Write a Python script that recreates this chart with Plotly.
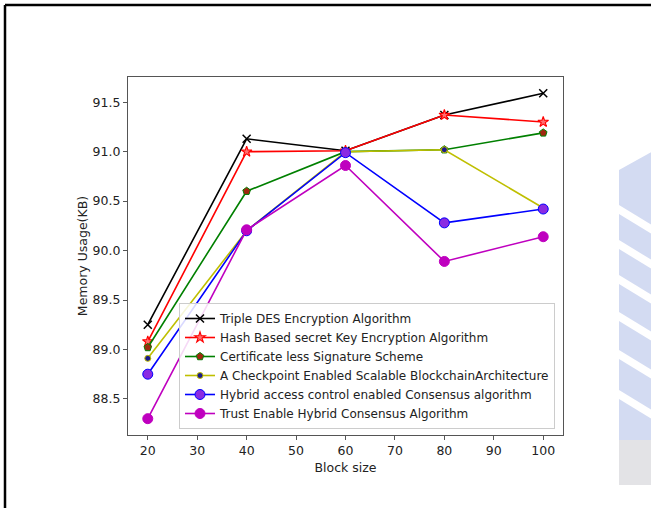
import plotly.graph_objects as go

# Block sizes and memory usage (KB) for each scheme
block_size = [20, 40, 60, 80, 100]

triple_des = [89.25, 91.13, 91.01, 91.37, 91.59]
hash_based = [89.08, 91.00, 91.01, 91.37, 91.30]
certificate_less = [89.02, 90.60, 91.00, 91.02, 91.19]
checkpoint = [88.91, 90.20, 91.00, 91.02, 90.43]
hybrid_access = [88.75, 90.20, 90.99, 90.28, 90.42]
trust_enable = [88.30, 90.21, 90.86, 89.89, 90.14]

series_names = [
    "Triple DES Encryption Algorithm",
    "Hash Based secret Key Encryption Algorithm",
    "Certificate less Signature Scheme",
    "A Checkpoint Enabled Scalable BlockchainArchitecture",
    "Hybrid access control enabled Consensus algorithm",
    "Trust Enable Hybrid Consensus Algorithm",
]

W, H = 651, 508
L, R, T, B = 128, 563, 77, 435  # plot area in pixels


def px(x):
    return (x - L) / (R - L)


def py(y):
    return (B - y) / (B - T)


styles = [
    dict(line="#000000", symbol="x-thin", size=8, fill="#000000", edge="#000000", ew=1.5),
    dict(line="#ff0000", symbol="star", size=8, fill="#ff7070", edge="#ff0000", ew=1.1),
    dict(line="#008000", symbol="pentagon", size=8, fill="#a0280f", edge="#008000", ew=1.0),
    dict(line="#bfbf00", symbol="circle", size=6, fill="#1a1a8c", edge="#bfbf00", ew=1.0),
    dict(line="#0000ff", symbol="circle", size=10, fill="#8a2be2", edge="#0000ff", ew=1.0),
    dict(line="#bf00bf", symbol="circle", size=10, fill="#bf00bf", edge="#bf00bf", ew=1.0),
]

data = [triple_des, hash_based, certificate_less, checkpoint, hybrid_access, trust_enable]

fig = go.Figure()
for name, ys, st in zip(series_names, data, styles):
    fig.add_trace(go.Scatter(
        x=block_size, y=ys, name=name, mode="lines+markers",
        line=dict(color=st["line"], width=1.6),
        marker=dict(symbol=st["symbol"], size=st["size"], color=st["fill"],
                    line=dict(color=st["edge"], width=st["ew"])),
    ))

shapes = []
# page frame
shapes.append(dict(type="line", xref="paper", yref="paper",
                   x0=px(5), x1=px(5), y0=py(5), y1=py(W + 10),
                   line=dict(color="black", width=2.5), layer="above"))
shapes.append(dict(type="line", xref="paper", yref="paper",
                   x0=px(5), x1=px(W + 10), y0=py(5), y1=py(5),
                   line=dict(color="black", width=2.5), layer="above"))

# faint background emblem on the right edge
shapes.append(dict(type="path", xref="paper", yref="paper",
                   path=f"M {px(619)} {py(170)} L {px(655)} {py(150)} L {px(655)} {py(485)} L {px(619)} {py(485)} Z",
                   fillcolor="#d3dbf2", line=dict(width=0), layer="below"))
shapes.append(dict(type="rect", xref="paper", yref="paper",
                   x0=px(619), x1=px(655), y0=py(440), y1=py(485),
                   fillcolor="#e3e3e6", line=dict(width=0), layer="below"))
for y0 in [205, 240, 275, 312, 350, 390]:
    shapes.append(dict(type="path", xref="paper", yref="paper",
                       path=(f"M {px(619)} {py(y0)} L {px(655)} {py(y0 + 22)} "
                             f"L {px(655)} {py(y0 + 31)} L {px(619)} {py(y0 + 9)} Z"),
                       fillcolor="#ffffff", line=dict(width=0), layer="below"))

fig.update_layout(
    width=W, height=H,
    margin=dict(l=L, r=W - R, t=T, b=H - B),
    paper_bgcolor="white", plot_bgcolor="white",
    font=dict(family="DejaVu Sans", size=12, color="#222222"),
    showlegend=True,
    legend=dict(
        x=px(179), y=py(303), xanchor="left", yanchor="top",
        bgcolor="rgba(255,255,255,0.85)", bordercolor="#cccccc", borderwidth=1,
        font=dict(family="DejaVu Sans", size=12, color="#222222"),
        itemwidth=30, tracegroupgap=0,
    ),
    xaxis=dict(
        range=[16, 104], tickvals=[20, 30, 40, 50, 60, 70, 80, 90, 100],
        showgrid=False, zeroline=False,
        showline=True, linecolor="#555555", linewidth=1.2, mirror=True,
        ticks="outside", ticklen=4, tickcolor="#555555",
        title=dict(text="Block size", font=dict(size=12.5), standoff=6),
        tickfont=dict(size=12.5),
    ),
    yaxis=dict(
        range=[88.135, 91.755], tickvals=[88.5, 89.0, 89.5, 90.0, 90.5, 91.0, 91.5],
        ticktext=["88.5", "89.0", "89.5", "90.0", "90.5", "91.0", "91.5"],
        showgrid=False, zeroline=False,
        showline=True, linecolor="#555555", linewidth=1.2, mirror=True,
        ticks="outside", ticklen=4, tickcolor="#555555",
        title=dict(text="Memory Usage(KB)", font=dict(size=12.5), standoff=2),
        tickfont=dict(size=12.5),
    ),
    shapes=shapes,
)

fig.write_html("out.html")
